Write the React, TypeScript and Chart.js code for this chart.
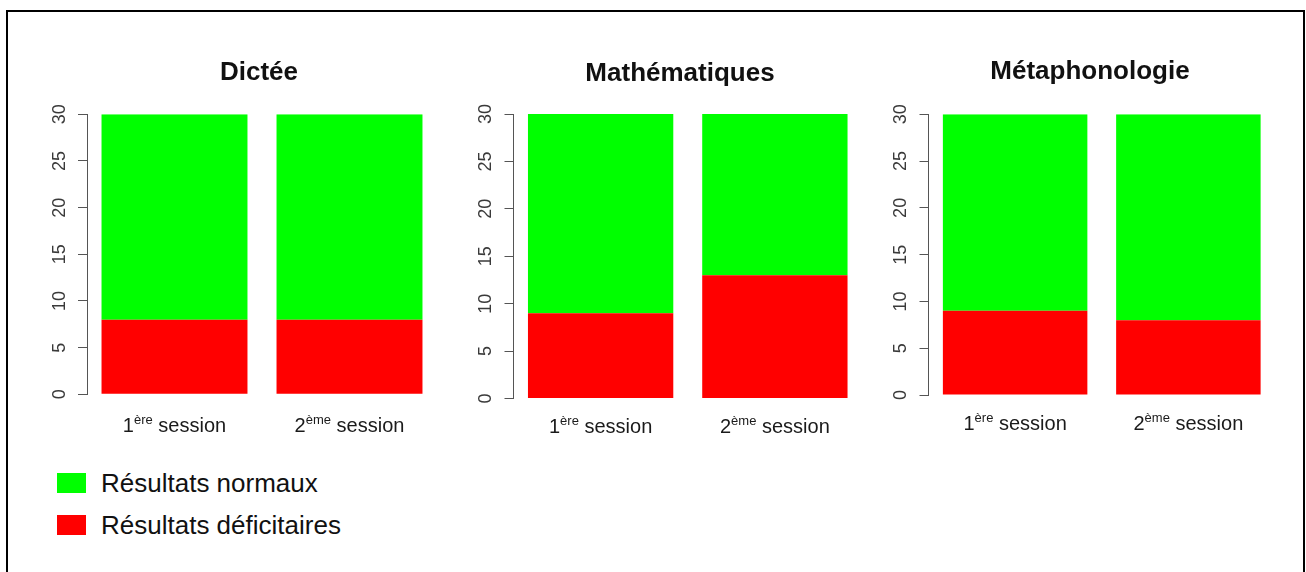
import React, { useEffect, useRef } from 'react';
import { Chart, registerables } from 'chart.js';

Chart.register(...registerables);

const FONT = '"Liberation Sans", Arial, Helvetica, sans-serif';

// ---------- data ----------
const subjects = ['Dictée', 'Mathématiques', 'Métaphonologie'];
const sessionNumbers = ['1', '2'];
const sessionSuperscripts = ['ère', 'ème'];
const sessionWord = 'session';

const deficitDictee = [8, 8];
const normalDictee = [22, 22];
const deficitMaths = [9, 13];
const normalMaths = [21, 17];
const deficitMeta = [9, 8];
const normalMeta = [21, 22];

const yMin = 0;
const yMax = 30;
const yStep = 5;

const normalLabel = 'Résultats normaux';
const deficitLabel = 'Résultats déficitaires';
const normalColor = '#00ff00';
const deficitColor = '#ff0000';

const panels = [
  { title: subjects[0], deficit: deficitDictee, normal: normalDictee },
  { title: subjects[1], deficit: deficitMaths, normal: normalMaths },
  { title: subjects[2], deficit: deficitMeta, normal: normalMeta },
];

const legendItems = [
  { label: normalLabel, color: normalColor },
  { label: deficitLabel, color: deficitColor },
];

// ---------- layout (page pixels) ----------
const panelLayout = [
  { axisX: 87, plotRight: 437, plotTop: 114.3, plotBottom: 394.3, titleX: 259, titleY: 72.5, labelY: 431.7 },
  { axisX: 513.5, plotRight: 862, plotTop: 114, plotBottom: 398.5, titleX: 680, titleY: 74, labelY: 433.3 },
  { axisX: 928.5, plotRight: 1275, plotTop: 114.3, plotBottom: 395, titleX: 1090, titleY: 72, labelY: 430 },
];
const CANVAS_TOP = 40;
const CANVAS_HEIGHT = 420;
const TITLE_SIZE = 26;
const TITLE_LINE = TITLE_SIZE * 1.2;
const Y_AXIS_WIDTH = 40;

const sessionLabelPlugin = {
  id: 'sessionLabels',
  afterDraw(chart: any, _args: any, opts: any) {
    const ctx = chart.ctx;
    const xs = chart.scales.x;
    const y = chart.chartArea.bottom + (opts.offset || 35);
    ctx.save();
    ctx.fillStyle = '#1a1a1a';
    ctx.textBaseline = 'alphabetic';
    ctx.textAlign = 'left';
    const mainFont = `20px ${FONT}`;
    const supFont = `13px ${FONT}`;
    (chart.data.labels as string[]).forEach((_l: string, i: number) => {
      const main = sessionNumbers[i];
      const sup = sessionSuperscripts[i];
      const rest = ' ' + sessionWord;
      ctx.font = mainFont;
      const w1 = ctx.measureText(main).width;
      const w3 = ctx.measureText(rest).width;
      ctx.font = supFont;
      const w2 = ctx.measureText(sup).width;
      const cx = xs.getPixelForValue(i);
      let x = cx - (w1 + w2 + w3) / 2;
      ctx.font = mainFont;
      ctx.fillText(main, x, y);
      x += w1;
      ctx.font = supFont;
      ctx.fillText(sup, x, y - 8);
      x += w2;
      ctx.font = mainFont;
      ctx.fillText(rest, x, y);
    });
    ctx.restore();
  },
};

function Panel({ index }: { index: number }) {
  const ref = useRef<HTMLCanvasElement | null>(null);
  const p = panels[index];
  const L = panelLayout[index];

  const yW = Y_AXIS_WIDTH;
  const plotCenter = (L.axisX + L.plotRight) / 2;
  // empty spacer axis on the right so the full-width title is centred where the reference has it
  const yRW = yW - 2 * (plotCenter - L.titleX);
  const canvasLeft = Math.floor(L.axisX - yW - 2);
  const padL = L.axisX - yW - canvasLeft;
  const canvasWidth = Math.ceil(L.plotRight + yRW) - canvasLeft;
  const padR = canvasLeft + canvasWidth - L.plotRight - yRW;
  const padB = CANVAS_TOP + CANVAS_HEIGHT - L.plotBottom;
  const titlePadTop = L.titleY - TITLE_LINE / 2 - CANVAS_TOP;
  const titlePadBottom = L.plotTop - L.titleY - TITLE_LINE / 2;

  useEffect(() => {
    if (!ref.current) return;
    const labels = sessionNumbers.map((n, i) => `${n}${sessionSuperscripts[i]} ${sessionWord}`);
    const chart = new Chart(ref.current, {
      type: 'bar',
      data: {
        labels,
        datasets: [
          {
            label: deficitLabel,
            data: p.deficit,
            backgroundColor: deficitColor,
            borderWidth: 0,
            barPercentage: 0.834,
            categoryPercentage: 1,
          },
          {
            label: normalLabel,
            data: p.normal,
            backgroundColor: normalColor,
            borderWidth: 0,
            barPercentage: 0.834,
            categoryPercentage: 1,
          },
        ],
      },
      options: {
        animation: false,
        responsive: false,
        devicePixelRatio: 1,
        layout: { padding: { left: padL, right: padR, top: 0, bottom: padB } },
        scales: {
          x: { stacked: true, display: false },
          y: {
            stacked: true,
            position: 'left',
            min: yMin,
            max: yMax,
            afterFit: (s: any) => {
              s.width = yW;
            },
            ticks: {
              stepSize: yStep,
              minRotation: 90,
              maxRotation: 90,
              crossAlign: 'center',
              padding: 8,
              color: '#3a3a3a',
              font: { family: FONT, size: 18 },
            },
            grid: { drawOnChartArea: false, drawTicks: true, tickLength: 9, color: '#555', lineWidth: 1 },
            border: { display: true, color: '#555', width: 1 },
          },
          spacer: {
            type: 'linear',
            position: 'right',
            display: true,
            min: yMin,
            max: yMax,
            afterFit: (s: any) => {
              s.width = yRW;
            },
            ticks: { display: false },
            grid: { display: false, drawTicks: false },
            border: { display: false },
          },
        },
        plugins: {
          legend: { display: false },
          tooltip: { enabled: false },
          title: {
            display: true,
            text: p.title,
            color: '#111',
            font: { family: FONT, size: TITLE_SIZE, weight: 'bold' },
            padding: { top: titlePadTop, bottom: titlePadBottom },
          },
          sessionLabels: { offset: L.labelY - L.plotBottom },
        } as any,
      } as any,
      plugins: [sessionLabelPlugin],
    });
    return () => chart.destroy();
  }, [index]);

  return (
    <canvas
      ref={ref}
      width={canvasWidth}
      height={CANVAS_HEIGHT}
      style={{ position: 'absolute', left: canvasLeft, top: CANVAS_TOP, width: canvasWidth, height: CANVAS_HEIGHT }}
    />
  );
}

export default function App() {
  const legendTops = [473, 515];
  return (
    <div
      style={{
        position: 'fixed',
        left: 0,
        top: 0,
        width: 1306,
        height: 572,
        overflow: 'hidden',
        background: '#fff',
        fontFamily: FONT,
      }}
    >
      <div
        style={{
          position: 'absolute',
          left: 6,
          top: 10,
          width: 1299,
          height: 620,
          boxSizing: 'border-box',
          borderLeft: '2px solid #000',
          borderTop: '2px solid #000',
          borderRight: '2px solid #000',
        }}
      />
      {panels.map((_, i) => (
        <Panel key={i} index={i} />
      ))}
      {legendItems.map((item, i) => (
        <div
          key={item.label}
          style={{
            position: 'absolute',
            left: 57,
            top: legendTops[i],
            height: 20,
            display: 'flex',
            alignItems: 'center',
            whiteSpace: 'nowrap',
          }}
        >
          <div style={{ width: 29, height: 20, background: item.color, marginRight: 15 }} />
          <span style={{ fontSize: 26, color: '#111', lineHeight: 'normal' }}>{item.label}</span>
        </div>
      ))}
    </div>
  );
}
